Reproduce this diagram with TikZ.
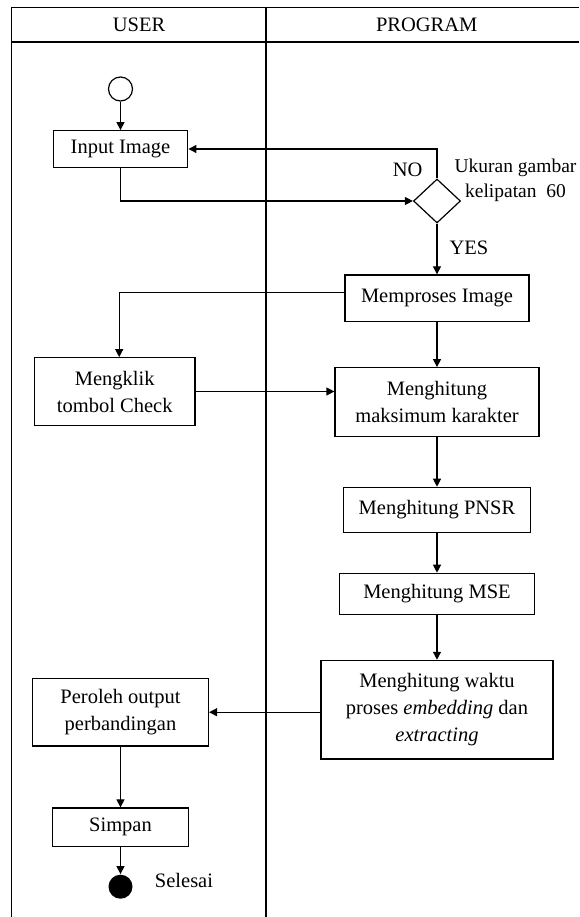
\documentclass[tikz,border=0pt]{standalone}
\usepackage{fontspec}
\setmainfont{Liberation Serif}
\usetikzlibrary{shapes.geometric, arrows.meta}

\begin{document}
\begin{tikzpicture}[x=1pt, y=-1pt, line width=1.2pt,
    every node/.style={font=\fontsize{20.5}{27}\selectfont},
    actbox/.style={draw, inner sep=0pt, align=center},
    choice/.style={draw, diamond, inner sep=0pt, minimum width=47pt, minimum height=44pt},
    arr/.style={-{Triangle[length=8pt, width=8pt]}}]
    \useasboundingbox (0,0) rectangle (579,917);

    % Draw the swimlanes
    \draw (11.8,917) -- (11.8,7.5) -- (579,7.5);
    \draw (11.8,42) -- (579,42); % Header line
    \draw (266,7.5) -- (266,917); % Lane divider
    \node (user) at (139,24.5) {USER};
    \node (prog) at (426.7,24.5) {PROGRAM};

    % User lane
    \node[circle, draw, minimum size=24pt, inner sep=0pt] (start) at (120.5,89) {};
    \node[actbox, minimum width=134.7pt, minimum height=36.6pt] (input) at (120.5,149) {Input Image};
    \node[actbox, minimum width=160.6pt, minimum height=67.6pt] (klik) at (114.7,391.5) {Mengklik\\tombol Check};
    \node[actbox, minimum width=176pt, minimum height=67.7pt] (hasil) at (120.5,712.2) {Peroleh output\\perbandingan};
    \node[actbox, minimum width=136pt, minimum height=38.7pt] (simpan) at (120.5,827.3) {Simpan};
    \node[circle, fill, minimum size=24pt, inner sep=0pt] (stop) at (120.5,886.7) {};
    \node (selesai) at (184,880.5) {Selesai};

    % Program lane
    \node[choice] (cek) at (437,201) {};
    \node[align=center, font=\fontsize{19.5}{25}\selectfont] (syarat) at (515.5,180.5) {Ukuran gambar\\kelipatan\ \ 60};
    \node (no) at (407.7,170) {NO};
    \node (yes) at (469,248.3) {YES};
    \node[actbox, minimum width=184pt, minimum height=46.7pt] (proses) at (437,298.3) {Memproses Image};
    \node[actbox, minimum width=204pt, minimum height=69pt] (maks) at (437,402.2) {Menghitung\\maksimum karakter};
    \node[actbox, minimum width=187.5pt, minimum height=45pt] (pnsr) at (437,509.8) {Menghitung PNSR};
    \node[actbox, minimum width=195.4pt, minimum height=41pt] (mse) at (437,593.8) {Menghitung MSE};
    \node[actbox, minimum width=232pt, minimum height=98.7pt] (waktu) at (437,709.7) {Menghitung waktu\\proses \textit{embedding} dan\\\textit{extracting}};

    % Draw the flow arrows
    \draw[arr] (start) -- (input);
    \draw[arr] (input.south) |- (cek.west);
    \draw[arr] (cek.north) |- (input.east); % NO branch
    \draw[arr] (cek) -- (proses); % YES branch
    \draw[arr] ([yshift=6pt]proses.west) -| ([xshift=4.5pt]klik.north);
    \draw[arr] (proses) -- (maks);
    \draw[arr] (klik.east) -- (klik.east -| maks.west);
    \draw[arr] (maks) -- (pnsr);
    \draw[arr] (pnsr) -- (mse);
    \draw[arr] (mse) -- (waktu);
    \draw[arr] (hasil.east -| waktu.west) -- (hasil.east);
    \draw[arr] (hasil) -- (simpan);
    \draw[arr] (simpan) -- (stop);
\end{tikzpicture}
\end{document}
